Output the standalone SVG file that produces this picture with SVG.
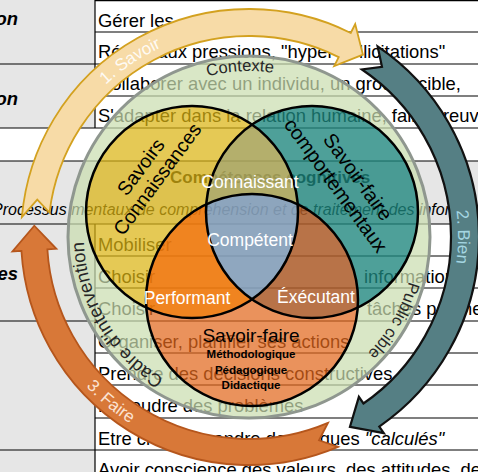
<svg xmlns="http://www.w3.org/2000/svg" width="478" height="472" viewBox="0 0 478 472">
<defs>
<style>
.t{font-family:"Liberation Sans",Arial,sans-serif;font-size:18.4px;fill:#000}
.lb{font-family:"Liberation Sans",Arial,sans-serif;font-size:18.4px;font-weight:bold;font-style:italic;fill:#000}
.ln{stroke:#000;stroke-width:1.2;fill:none}
.reg{stroke:none}
.vc{fill:none;stroke:#000;stroke-width:2.5}
.w{font-family:"Liberation Sans",Arial,sans-serif;font-size:17.5px;fill:#fff;text-anchor:middle}
.k{font-family:"Liberation Sans",Arial,sans-serif;fill:#000;text-anchor:middle}
.ring{font-family:"Liberation Sans",Arial,sans-serif;fill:#262626}
.arr{font-family:"Liberation Sans",Arial,sans-serif;font-size:17px}
</style>
<mask id="ringMask" maskUnits="userSpaceOnUse" x="0" y="0" width="478" height="472">
<rect x="0" y="0" width="478" height="472" fill="#fff"/>
<circle cx="192" cy="212" r="106" fill="#000"/>
<circle cx="312" cy="212" r="106" fill="#000"/>
<circle cx="252" cy="300" r="106" fill="#000"/>
</mask>
<path id="pCtx" d="M158.6,98 A166,166 0 0 1 324.4,89"/>
<path id="pCadre" d="M192.57,392.05 A165,165 0 0 1 93.95,180.57"/>
<path id="pPublic" d="M415,237 A166,166 0 0 1 332,380.76"/>
<path id="pSavoir" d="M61.15,145.38 A209,209 0 0 1 234.42,28.51"/>
<path id="pBien" d="M430,132.5 A209,209 0 0 1 430,341.5"/>
<path id="pFaire" d="M41.33,312.59 A221,221 0 0 0 210.62,454.64"/>
</defs>

<g id="table">
<rect x="0" y="0" width="478" height="472" fill="#fff"/>
<rect x="0" y="0" width="95" height="128" fill="#e6e6e6"/>
<rect x="0" y="161" width="478" height="63" fill="#e6e6e6"/>
<rect x="0" y="224" width="95" height="248" fill="#e6e6e6"/>
<path class="ln" d="M95,0.6H478 M95,32H478 M0,64H478 M95,96H478 M0,128H478 M0,161H478 M0,224H478 M95,256H478 M95,288H478 M0,321H478 M95,353H478 M95,385H478 M95,418H478 M0,450H478 M95,0V128 M95,224V472"/>
<text class="lb" x="18" y="25" text-anchor="end">on</text>
<text class="lb" x="18" y="105" text-anchor="end">on</text>
<text class="lb" x="18" y="280" text-anchor="end">les</text>
<text class="t" x="98" y="27">Gérer les</text>
<text class="t" x="98" y="58">Réagir aux pressions, "hyper-sollicitations"</text>
<text class="t" x="98" y="90">Collaborer avec un individu, un groupe cible,</text>
<text class="t" x="98" y="122">S'adapter dans la relation humaine, faire preuve</text>
<text class="t" x="170" y="183" style="font-weight:bold;font-size:17px">Compétences cognitives</text>
<text class="t" x="-8" y="215" style="font-style:italic;font-size:16px">Processus mentaux de compréhension et de traitement des informations</text>
<text class="t" x="98" y="251">Mobiliser</text>
<text class="t" x="98" y="283">Choisir</text>
<text class="t" x="364" y="283">informations</text>
<text class="t" x="98" y="315">Choisir</text>
<text class="t" x="367" y="315">tâches pertinentes</text>
<text class="t" x="98" y="348">Organiser, planifier ses actions</text>
<text class="t" x="98" y="380">Prendre des décisions constructives</text>
<text class="t" x="98" y="412">Résoudre des problèmes</text>
<text class="t" x="98" y="445">Etre créatif, prendre des risques <tspan font-style="italic">"calculés"</tspan></text>
<text class="t" x="98" y="476">Avoir conscience des valeurs, des attitudes, de</text>
</g>

<g id="contexte">
<circle cx="249" cy="237" r="181" fill="#cadeb0" fill-opacity="0.72" mask="url(#ringMask)"/>
<circle cx="249" cy="237" r="181" fill="none" stroke="#8f978f" stroke-width="3"/>
<text class="ring" font-size="16.5"><textPath href="#pCtx" startOffset="50%" text-anchor="middle">Contexte</textPath></text>
<text class="ring" font-size="18.5"><textPath href="#pCadre" startOffset="31.7">Cadre d'intervention</textPath></text>
<text class="ring" font-size="16.5"><textPath href="#pPublic" startOffset="50%" text-anchor="middle">Public cible</textPath></text>
</g>

<g id="savoirs">
<path class="reg" fill="#dbb413" fill-opacity="0.72" d="M252,124.64 A106,106 0 1 0 146.27,307.63 A106,106 0 0 1 206.27,204.37 A106,106 0 0 1 252,124.64 Z"/>
</g>
<g id="savoir-faire-comportementaux">
<path class="reg" fill="#1c857c" fill-opacity="0.78" d="M252,124.64 A106,106 0 1 1 357.73,307.63 A106,106 0 0 0 297.73,204.37 A106,106 0 0 0 252,124.64 Z"/>
</g>
<g id="savoir-faire">
<path class="reg" fill="#e2681d" fill-opacity="0.72" d="M146.27,307.63 A106,106 0 0 0 357.73,307.63 A106,106 0 0 1 252,299.36 A106,106 0 0 1 146.27,307.63 Z"/>
</g>
<g id="connaissant">
<path class="reg" fill="#aca65c" fill-opacity="0.9" d="M252,124.64 A106,106 0 0 1 297.73,204.37 A106,106 0 0 0 206.27,204.37 A106,106 0 0 1 252,124.64 Z"/>
</g>
<g id="competent">
<path class="reg" fill="#85a0ba" fill-opacity="0.92" d="M206.27,204.37 A106,106 0 0 1 297.73,204.37 A106,106 0 0 1 252,299.36 A106,106 0 0 1 206.27,204.37 Z"/>
</g>
<g id="performant">
<path class="reg" fill="#ef790d" fill-opacity="0.92" d="M146.27,307.63 A106,106 0 0 1 206.27,204.37 A106,106 0 0 0 252,299.36 A106,106 0 0 1 146.27,307.63 Z"/>
</g>
<g id="executant">
<path class="reg" fill="#ab5a28" fill-opacity="0.85" d="M357.73,307.63 A106,106 0 0 0 297.73,204.37 A106,106 0 0 1 252,299.36 A106,106 0 0 0 357.73,307.63 Z"/>
</g>

<g id="venn-outlines">
<circle class="vc" cx="192" cy="212" r="106"/>
<circle class="vc" cx="312" cy="212" r="106"/>
<circle class="vc" cx="252" cy="300" r="106"/>
</g>

<g id="labels">
<g transform="translate(149,173) rotate(-53.5)">
<text class="k" font-size="19.5" x="0" y="-3.5">Savoirs</text>
<text class="k" font-size="19.5" x="0" y="17">Connaissances</text>
</g>
<g transform="translate(347,181) rotate(54)">
<text class="k" font-size="20" x="3" y="-4.5">Savoir-faire</text>
<text class="k" font-size="20" x="-3" y="18.5">comportementaux</text>
</g>
<text class="w" x="250" y="188">Connaissant</text>
<text class="w" x="250" y="246">Compétent</text>
<text class="w" x="187" y="304">Performant</text>
<text class="w" x="316" y="303">Éxécutant</text>
<text class="k" font-size="19" x="251" y="342">Savoir-faire</text>
<text class="k" font-size="11.5" font-weight="bold" x="251" y="358">Méthodologique</text>
<text class="k" font-size="11.5" font-weight="bold" x="251" y="374">Pédagogique</text>
<text class="k" font-size="11.5" font-weight="bold" x="251" y="389">Didactique</text>
</g>

<g id="connectors">
<path d="M21.87,217.13 A228,228 0 0 1 350.73,32.96 L355.2,24.01 L362.93,54.67 L334.22,66.07 L338.69,57.12 A201,201 0 0 0 49.5,212.5 L37.27,199.67 Z" fill="#f7dba7" stroke="#d3a11f" stroke-width="1.8"/>
<path d="M338.09,446.87 A228,228 0 0 1 21.43,250.92 L12.44,251.47 L34.29,225.75 L56.36,248.78 L47.38,249.33 A202,202 0 0 0 327.93,422.94 L319,440.29 Z" fill="#d87838" stroke="#b5561c" stroke-width="1.8"/>
<path d="M377.61,46.32 A230,230 0 0 1 379.27,426.55 L383.81,433.14 L349.94,426.83 L358.88,396.88 L363.41,403.47 A202,202 0 0 0 361.96,69.53 L381.98,66.79 Z" fill="#557f84" stroke="#111" stroke-width="2.2"/>
<text class="arr" fill="#fff" fill-opacity="0.9"><textPath href="#pSavoir" startOffset="50%" text-anchor="middle">1. Savoir</textPath></text>
<text class="arr" fill="#a4d6e2"><textPath href="#pBien" startOffset="50%" text-anchor="middle">2. Bien</textPath></text>
<text class="arr" fill="#fbe3d3"><textPath href="#pFaire" startOffset="50%" text-anchor="middle">3. Faire</textPath></text>
</g>
</svg>
